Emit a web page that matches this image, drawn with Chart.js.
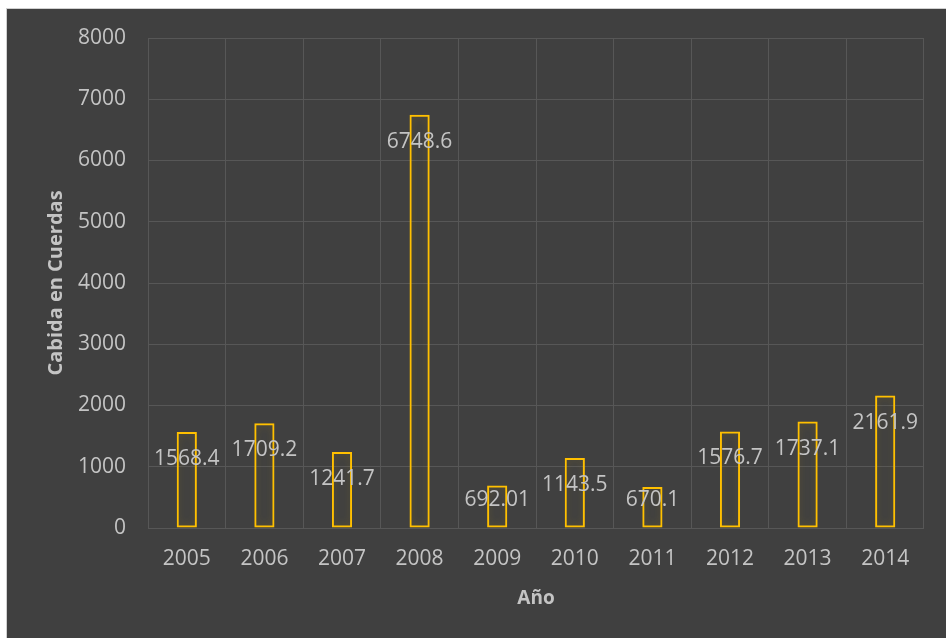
<!DOCTYPE html>
<html>
<head>
<meta charset="utf-8">
<script src="https://cdn.jsdelivr.net/npm/chart.js@4.4.1/dist/chart.umd.min.js"></script>
<style>
  body { margin: 0; background: #ffffff; }
  #wrap { position: absolute; left: 6px; top: 8px; border-left: 1px solid #d0d0d0; border-top: 1px solid #d0d0d0; background: #404040; }
  canvas { display: block; }
</style>
</head>
<body>
<div id="wrap"><canvas id="myChart" width="939" height="629"></canvas></div>
<script>
// data
var years = ['2005', '2006', '2007', '2008', '2009', '2010', '2011', '2012', '2013', '2014'];
var cabida = [1568.4, 1709.2, 1241.7, 6748.6, 692.01, 1143.5, 670.1, 1576.7, 1737.1, 2161.9];
var cabidaLabels = ['1568.4', '1709.2', '1241.7', '6748.6', '692.01', '1143.5', '670.1', '1576.7', '1737.1', '2161.9'];

var textColor = '#c4c4c4';
var gridColor = '#575757';

// soft glow round the bars
var glowPlugin = {
  id: 'glow',
  beforeDatasetsDraw: function(chart){
    var ctx = chart.ctx;
    ctx.save();
    ctx.shadowColor = 'rgba(190,150,0,0.35)';
    ctx.shadowBlur = 8;
  },
  afterDatasetsDraw: function(chart){
    chart.ctx.restore();
  }
};

// value labels, a little below the top of each bar
var labelPlugin = {
  id: 'valueLabels',
  afterDatasetsDraw: function(chart){
    var ctx = chart.ctx;
    var meta = chart.getDatasetMeta(0);
    ctx.save();
    ctx.font = '21px "Open Sans"';
    ctx.fillStyle = textColor;
    ctx.textAlign = 'center';
    ctx.textBaseline = 'middle';
    meta.data.forEach(function(bar, i){
      var y = Math.min(bar.y + 27, bar.base - 27);
      ctx.fillText(cabidaLabels[i], bar.x, y);
    });
    ctx.restore();
  }
};

new Chart(document.getElementById('myChart'), {
  type: 'bar',
  data: {
    labels: years,
    datasets: [{
      label: 'Cabida',
      data: cabida,
      backgroundColor: 'rgba(0,0,0,0)',
      borderColor: '#ffc000',
      borderWidth: 2,
      borderSkipped: false,
      barPercentage: 0.26,
      categoryPercentage: 1
    }]
  },
  options: {
    responsive: false,
    animation: false,
    layout: { padding: { top: 29, right: 22, left: 0, bottom: 0 } },
    plugins: {
      legend: { display: false },
      tooltip: { enabled: false }
    },
    scales: {
      x: {
        grid: { color: gridColor, lineWidth: 1, drawTicks: false, offset: true },
        border: { display: false },
        ticks: { color: textColor, font: { family: 'Open Sans', size: 21 }, padding: 18 },
        title: {
          display: true, text: 'Año', color: textColor,
          font: { family: 'Open Sans', size: 19, weight: 'bold' },
          padding: { top: 0, bottom: 28 }
        },
        afterFit: function(scale){ scale.height = 110; scale.paddingLeft = 0; scale.paddingRight = 0; }
      },
      y: {
        min: 0, max: 8000,
        grid: { color: gridColor, lineWidth: 1, drawTicks: false },
        border: { display: false },
        ticks: {
          stepSize: 1000, color: textColor, font: { family: 'Open Sans', size: 21 }, padding: 22,
          callback: function(v){ return String(v); }
        },
        title: {
          display: true, text: 'Cabida en Cuerdas', color: textColor,
          font: { family: 'Open Sans', size: 20, weight: 'bold' },
          padding: { top: 37, bottom: 0 }
        },
        afterFit: function(scale){ scale.width = 141; scale.paddingTop = 0; scale.paddingBottom = 0; }
      }
    }
  },
  plugins: [glowPlugin, labelPlugin]
});
</script>
</body>
</html>
